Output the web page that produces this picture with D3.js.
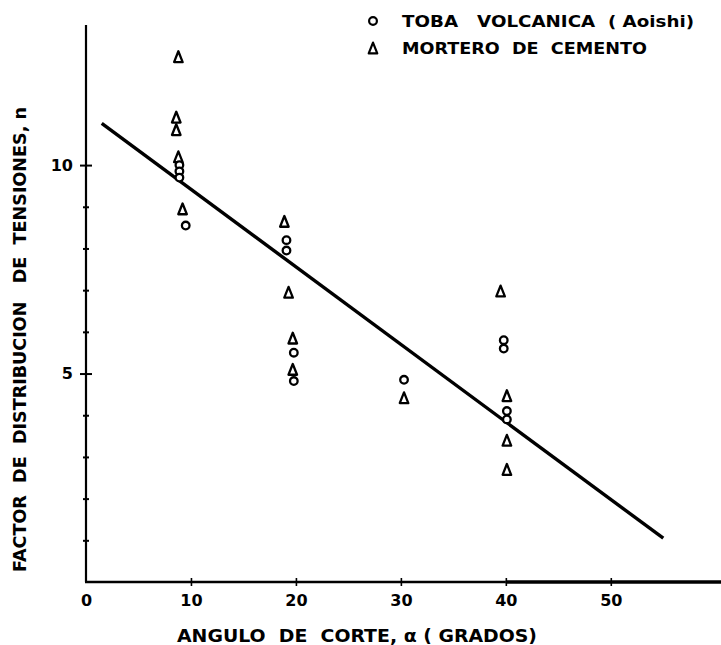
<!DOCTYPE html>
<html><head><meta charset="utf-8">
<script src="https://cdn.jsdelivr.net/npm/d3@7"></script>
<style>
html,body{margin:0;padding:0;background:#fff;}
svg{display:block;}
text{font-family:"DejaVu Sans",sans-serif;font-weight:bold;fill:#000;white-space:pre;}
</style></head>
<body>
<script>
// ---- data ----
const xTickValues = [0, 10, 20, 30, 40, 50];
const xTickLabels = ["0", "10", "20", "30", "40", "50"];
const yMajorTicks = [5, 10];
const yMajorLabels = ["5", "10"];
const yMinorTicks = [1, 2, 3, 4, 6, 7, 8, 9];

const tobaX = [8.9, 8.9, 8.9, 9.5, 19.1, 19.1, 19.8, 19.8, 30.3, 39.8, 39.8, 40.1, 40.1];
const tobaY = [10.0, 9.85, 9.7, 8.55, 8.2, 7.95, 5.5, 4.82, 4.85, 5.8, 5.6, 4.1, 3.9];

const morteroX = [8.8, 8.6, 8.6, 8.8, 9.2, 18.9, 19.3, 19.7, 19.7, 30.3, 39.5, 40.1, 40.1, 40.1];
const morteroY = [12.6, 11.15, 10.85, 10.2, 8.95, 8.65, 6.95, 5.85, 5.1, 4.42, 6.98, 4.47, 3.4, 2.7];

const lineX = [1.5, 55];
const lineY = [11.0, 1.05];

const legendLabels = ["TOBA   VOLCANICA  ( Aoishi)", "MORTERO  DE  CEMENTO"];
const xTitle = "ANGULO  DE  CORTE, \u03B1 ( GRADOS)";
const yTitle = "FACTOR  DE  DISTRIBUCION   DE  TENSIONES, n";

// ---- drawing ----
const W = 721, H = 645;
const svg = d3.select("body").append("svg").attr("width", W).attr("height", H);

const x = d3.scaleLinear().domain([0, 60.5]).range([86, 721]);
const y = d3.scaleLinear().domain([0, 13.36]).range([582, 25]);

// axis lines
svg.append("line").attr("x1", x(0)).attr("x2", x(0)).attr("y1", y(0)).attr("y2", y(13.36))
  .attr("stroke", "#000").attr("stroke-width", 2.2);
svg.append("line").attr("x1", x(0) - 1).attr("x2", x(40)).attr("y1", y(0)).attr("y2", y(0))
  .attr("stroke", "#000").attr("stroke-width", 2.4);
svg.append("line").attr("x1", x(40)).attr("x2", x(60.5)).attr("y1", y(0)).attr("y2", y(0))
  .attr("stroke", "#000").attr("stroke-width", 3.4);

// x axis ticks and labels
const xa = svg.append("g").attr("transform", `translate(0,${y(0)})`)
  .call(d3.axisBottom(x).tickValues(xTickValues).tickSize(4).tickFormat((d, i) => xTickLabels[i]));
xa.select(".domain").remove();
xa.selectAll(".tick line").attr("y1", -4).attr("y2", 4).attr("stroke-width", 1.6);
xa.selectAll(".tick").filter(d => d === 0).select("line").remove();
xa.selectAll(".tick text").attr("y", 13).attr("dy", "0.71em")
  .style("font-size", "16px").style("font-family", "DejaVu Sans").style("font-weight", "bold");

// y axis major ticks
const ya = svg.append("g").attr("transform", `translate(${x(0)},0)`)
  .call(d3.axisLeft(y).tickValues(yMajorTicks).tickSize(6).tickFormat((d, i) => yMajorLabels[i]));
ya.select(".domain").remove();
ya.selectAll(".tick line").attr("x1", 6).attr("x2", -6).attr("stroke-width", 2);
ya.selectAll(".tick text").attr("x", -13)
  .style("font-size", "16px").style("font-family", "DejaVu Sans").style("font-weight", "bold");

// y minor ticks
const ym = svg.append("g").attr("transform", `translate(${x(0)},0)`)
  .call(d3.axisLeft(y).tickValues(yMinorTicks).tickSize(3).tickFormat(""));
ym.select(".domain").remove();
ym.selectAll(".tick line").attr("x1", 3).attr("x2", -3).attr("stroke-width", 2);

// regression line
svg.append("path")
  .datum(lineX.map((v, i) => [v, lineY[i]]))
  .attr("d", d3.line().x(d => x(d[0])).y(d => y(d[1])))
  .attr("fill", "none").attr("stroke", "#000").attr("stroke-width", 3.4);

// markers
const tallTriangle = {
  draw(ctx, size) {
    const w = Math.sqrt(size) * 0.95, h = Math.sqrt(size) * 1.2;
    ctx.moveTo(0, -h / 2);
    ctx.lineTo(w / 2, h / 2);
    ctx.lineTo(-w / 2, h / 2);
    ctx.closePath();
  }
};
const triSym = d3.symbol().type(tallTriangle).size(81);
svg.append("g").selectAll("path").data(morteroX.map((v, i) => [v, morteroY[i]]))
  .join("path")
  .attr("d", triSym)
  .attr("transform", d => `translate(${x(d[0])},${y(d[1])})`)
  .attr("fill", "#fff").attr("stroke", "#000").attr("stroke-width", 2.3)
  .attr("stroke-linejoin", "round");

svg.append("g").selectAll("circle").data(tobaX.map((v, i) => [v, tobaY[i]]))
  .join("circle")
  .attr("cx", d => x(d[0])).attr("cy", d => y(d[1])).attr("r", 3.8)
  .attr("fill", "#fff").attr("stroke", "#000").attr("stroke-width", 2.3);

// legend
const lg = svg.append("g");
lg.append("circle").attr("cx", 373).attr("cy", 21).attr("r", 3.9)
  .attr("fill", "#fff").attr("stroke", "#000").attr("stroke-width", 2.2);
lg.append("path").attr("d", triSym).attr("transform", "translate(373,48)")
  .attr("fill", "#fff").attr("stroke", "#000").attr("stroke-width", 2.2)
  .attr("stroke-linejoin", "round");
lg.append("text").attr("x", 402).attr("y", 27).text(legendLabels[0])
  .attr("textLength", 292).attr("lengthAdjust", "spacingAndGlyphs").style("font-size", "16px");
lg.append("text").attr("x", 402).attr("y", 54).text(legendLabels[1])
  .attr("textLength", 245).attr("lengthAdjust", "spacingAndGlyphs").style("font-size", "16px");

// axis titles
svg.append("text").attr("x", 177).attr("y", 642).text(xTitle)
  .attr("textLength", 360).attr("lengthAdjust", "spacingAndGlyphs").style("font-size", "17px");
svg.append("text").attr("transform", "translate(26,572) rotate(-90)").text(yTitle)
  .attr("textLength", 465).attr("lengthAdjust", "spacingAndGlyphs").style("font-size", "17px");
</script>
</body></html>
